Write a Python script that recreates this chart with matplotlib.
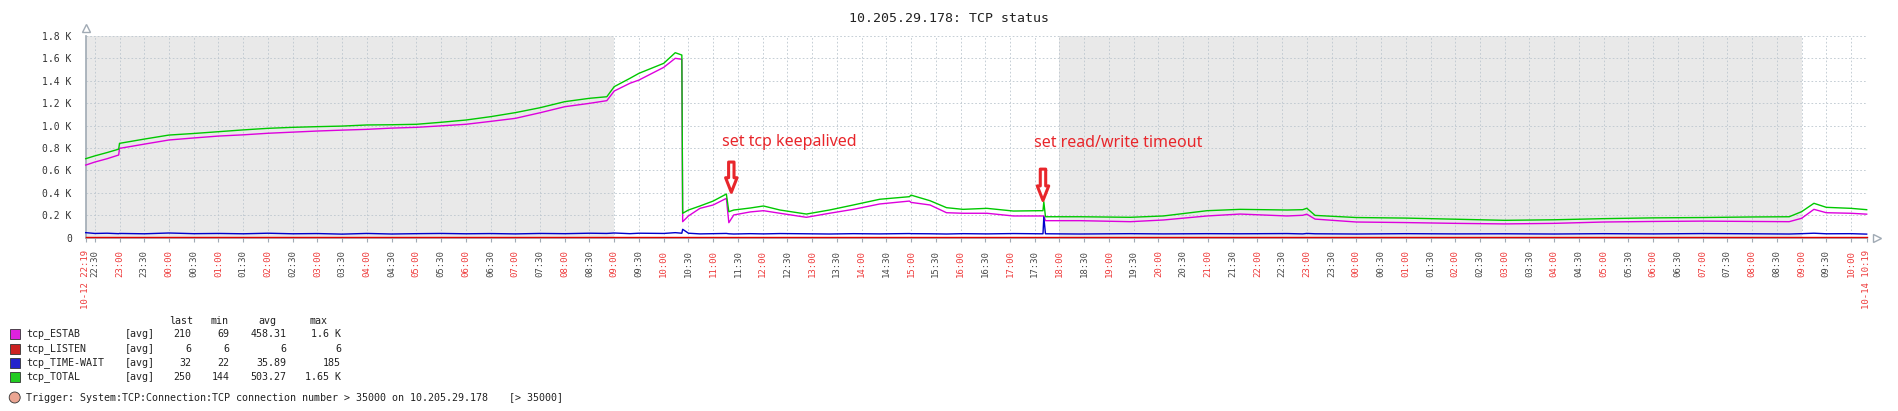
import numpy as np
import pandas as pd
import matplotlib
matplotlib.use('Agg')
import matplotlib.pyplot as plt
import matplotlib.patches as mpatches

plt.rcParams['font.family'] = ['DejaVu Sans Mono']

"""___________________"""
"Data (read off the zabbix graph)"
times = ['10-12 22:19', '10-12 22:30', '10-12 22:45', '10-12 22:59', '10-12 23:00', '10-12 23:30',
         '10-13 00:00', '10-13 00:30', '10-13 01:00', '10-13 01:30', '10-13 02:00', '10-13 02:30',
         '10-13 03:00', '10-13 03:30', '10-13 04:00', '10-13 04:30', '10-13 05:00', '10-13 05:30',
         '10-13 06:00', '10-13 06:30', '10-13 07:00', '10-13 07:30', '10-13 08:00', '10-13 08:30',
         '10-13 08:51', '10-13 09:00', '10-13 09:19', '10-13 09:30', '10-13 10:00', '10-13 10:14',
         '10-13 10:22', '10-13 10:23', '10-13 10:30', '10-13 10:44', '10-13 11:00', '10-13 11:16',
         '10-13 11:19', '10-13 11:25', '10-13 11:45', '10-13 12:01', '10-13 12:21', '10-13 12:53',
         '10-13 13:21', '10-13 13:50', '10-13 14:22', '10-13 14:58', '10-13 15:00', '10-13 15:23',
         '10-13 15:43', '10-13 16:03', '10-13 16:32', '10-13 17:04', '10-13 17:36', '10-13 17:40',
         '10-13 17:41', '10-13 17:43', '10-13 18:25', '10-13 19:26', '10-13 20:06', '10-13 20:59',
         '10-13 21:39', '10-13 22:36', '10-13 22:55', '10-13 23:00', '10-13 23:10', '10-14 00:00',
         '10-14 01:00', '10-14 02:00', '10-14 03:00', '10-14 04:00', '10-14 05:00', '10-14 06:00',
         '10-14 07:00', '10-14 08:00', '10-14 08:45', '10-14 09:00', '10-14 09:15', '10-14 09:30',
         '10-14 10:00', '10-14 10:19']

tcp_total = [705, 730, 760, 790, 842, 880, 916, 930, 946, 962, 976, 985,
             991, 996, 1006, 1008, 1012, 1030, 1050, 1080, 1116, 1160, 1214, 1244,
             1258, 1348, 1422, 1467, 1556, 1651, 1630, 218, 247, 283, 327, 390,
             232, 247, 265, 283, 247, 211, 247, 292, 343, 366, 380, 330,
             268, 253, 262, 238, 241, 241, 321, 187, 187, 182, 194, 241,
             253, 247, 250, 263, 199, 180, 175, 165, 155, 160, 170, 177,
             180, 185, 187, 232, 307, 271, 262, 250]

tcp_estab = [648, 675, 705, 738, 797, 835, 872, 890, 907, 918, 932, 942,
             952, 960, 967, 978, 985, 998, 1012, 1038, 1065, 1115, 1169, 1199,
             1223, 1309, 1378, 1407, 1520, 1601, 1592, 143, 194, 262, 292, 351,
             134, 203, 230, 241, 218, 182, 218, 253, 301, 327, 315, 292,
             223, 218, 218, 194, 194, 194, 194, 152, 152, 143, 158, 194,
             211, 194, 200, 210, 166, 140, 135, 128, 123, 128, 140, 145,
             148, 145, 143, 173, 253, 223, 218, 210]

tcp_time_wait = [45, 38, 40, 36, 38, 35, 42, 36, 38, 35, 40, 35,
                 37, 32, 38, 33, 36, 38, 35, 37, 34, 38, 36, 40,
                 38, 42, 36, 40, 38, 45, 40, 75, 40, 34, 36, 38,
                 35, 33, 36, 34, 37, 35, 33, 36, 34, 37, 36, 35,
                 33, 36, 34, 37, 35, 35, 185, 35, 33, 36, 34, 36,
                 35, 37, 34, 38, 35, 33, 36, 34, 35, 33, 36, 34,
                 37, 35, 33, 36, 40, 35, 36, 32]

tcp_listen = [6] * len(times)

series_names = ['tcp_ESTAB', 'tcp_LISTEN', 'tcp_TIME-WAIT', 'tcp_TOTAL']
legend_last = ['210', '6', '32', '250']
legend_min = ['69', '6', '22', '144']
legend_avg = ['458.31', '6', '35.89', '503.27']
legend_max = ['1.6 K', '6', '185', '1.65 K']

night_periods = [('10-12 22:19', '10-13 09:00'), ('10-13 18:00', '10-14 09:00')]
events = [('10-13 11:22', 'set tcp keepalived'), ('10-13 17:40', 'set read/write timeout')]
"""___________________"""

W, H = 1898, 411
line_colors = ['#DD00DD', '#E00000', '#0000CC', '#00C800']
box_colors = ['#DD22DD', '#CC2222', '#2222CC', '#22CC22']
grid_col = '#BCC6CE'
axis_col = '#A0AAB4'
red_lbl = '#EE3B3B'
grey_lbl = '#4A4A4A'
note_red = '#E8262B'


def to_hours(s):
    t = pd.to_datetime(s, format='%m-%d %H:%M')
    return (t - t0).total_seconds() / 3600.0


t0 = pd.to_datetime(times[0], format='%m-%d %H:%M')
t_end = pd.to_datetime(times[-1], format='%m-%d %H:%M')
x = np.array([to_hours(s) for s in times])
x_end = to_hours(times[-1])

fig = plt.figure(figsize=(W / 100, H / 100), dpi=100)
ax = fig.add_axes([85.7 / W, 1 - 237.7 / H, 1781 / W, 201.7 / H])

# night shading
for a, b in night_periods:
    ax.axvspan(to_hours(a), to_hours(b), color='#E9E9E9', lw=0, zorder=0)

# lines
series = [tcp_estab, tcp_listen, tcp_time_wait, tcp_total]
for vals, col in zip(series, line_colors):
    ax.plot(x, vals, color=col, lw=1.0, zorder=3, clip_on=False)

ax.set_xlim(0, x_end)
ax.set_ylim(0, 1800)

# y axis
yt = np.arange(0, 1801, 200)
ax.set_yticks(yt)
ax.set_yticklabels(['0'] + ['%.1f K' % (v / 1000.) for v in yt[1:]], fontsize=7, color='#333333')
ax.tick_params(axis='y', length=0, pad=10)

# x axis: every 30 min + start/end
ticks = pd.date_range(t0.ceil('30min'), t_end.floor('30min'), freq='30min')
xt = [0] + [(t - t0).total_seconds() / 3600.0 for t in ticks] + [x_end]
xl = [t0.strftime('%m-%d %H:%M')] + [t.strftime('%H:%M') for t in ticks] + [t_end.strftime('%m-%d %H:%M')]
ax.set_xticks(xt)
ax.set_xticklabels(xl, rotation=90, fontsize=6.5, va='top', ha='center')
for lbl in ax.get_xticklabels():
    if lbl.get_text().endswith(':00') or len(lbl.get_text()) > 5:
        lbl.set_color(red_lbl)
    else:
        lbl.set_color(grey_lbl)
ax.tick_params(axis='x', length=3, color=axis_col, pad=6)

# grid
for v in yt[1:]:
    ax.axhline(v, color=grid_col, lw=0.6, ls=(0, (2, 2.5)), zorder=1)
for v in xt[1:]:
    ax.axvline(v, color=grid_col, lw=0.6, ls=(0, (2, 2.5)), zorder=1)

for s in ['top', 'right']:
    ax.spines[s].set_visible(False)
for s in ['left', 'bottom']:
    ax.spines[s].set_color(axis_col)
    ax.spines[s].set_linewidth(1.2)
    ax.spines[s].set_zorder(2)
ax.plot([0], [1.04], marker='^', ms=6, mfc='white', mec=axis_col, mew=1,
        transform=ax.transAxes, clip_on=False)
ax.plot([1.006], [0], marker='>', ms=6, mfc='white', mec=axis_col, mew=1,
        transform=ax.transAxes, clip_on=False)

# hand-drawn notes
for (t, txt), ytop, ytip, ytxt in zip(events, [675, 612], [405, 332], [857, 848]):
    xe = to_hours(t)
    ax.annotate('', xy=(xe, ytip), xytext=(xe, ytop),
                arrowprops=dict(arrowstyle='simple,head_length=0.7,head_width=0.55,tail_width=0.26',
                                fc='white', ec=note_red, lw=2.2, shrinkA=0, shrinkB=0,
                                mutation_scale=15), zorder=6)
    ax.text(xe - 0.18, ytxt, txt, color=note_red, fontsize=11.5, family=['Noto Sans', 'DejaVu Sans'],
            va='center', ha='left', zorder=6)

fig.text(0.5, 1 - 19 / H, '10.205.29.178: TCP status', ha='center', va='center', fontsize=9.5, color='#222222')


# legend
def px(xp, yp):
    return xp / W, 1 - yp / H


fs = 7.2
for xr, h in zip([193, 228.5, 276.7, 328], ['last', 'min', 'avg', 'max']):
    fig.text(*px(xr, 321), h, ha='right', va='center', fontsize=fs, color='#222222')
rows_y = [334, 348.5, 363, 377]
for i in range(4):
    yp = rows_y[i]
    fig.patches.append(mpatches.Rectangle(px(9.5, yp + 5), 10 / W, 10 / H, transform=fig.transFigure,
                                          fc=box_colors[i], ec='#333333', lw=0.6))
    fig.text(*px(26.8, yp), series_names[i], ha='left', va='center', fontsize=fs, color='#222222')
    fig.text(*px(125, yp), '[avg]', ha='left', va='center', fontsize=fs, color='#222222')
    fig.text(*px(191.7, yp), legend_last[i], ha='right', va='center', fontsize=fs, color='#222222')
    fig.text(*px(229.6, yp), legend_min[i], ha='right', va='center', fontsize=fs, color='#222222')
    fig.text(*px(286.4, yp), legend_avg[i], ha='right', va='center', fontsize=fs, color='#222222')
    fig.text(*px(341, yp), legend_max[i], ha='right', va='center', fontsize=fs, color='#222222')

fig.patches.append(mpatches.Ellipse(px(14.7, 397.5), 11 / W, 11 / H, transform=fig.transFigure,
                                    fc='#EBA592', ec='#333333', lw=0.6))
fig.text(*px(26, 397.5), 'Trigger: System:TCP:Connection:TCP connection number > 35000 on 10.205.29.178',
         ha='left', va='center', fontsize=fs, color='#222222')
fig.text(*px(508.6, 397.5), '[> 35000]', ha='left', va='center', fontsize=fs, color='#222222')

fig.savefig('out.png', dpi=100)
